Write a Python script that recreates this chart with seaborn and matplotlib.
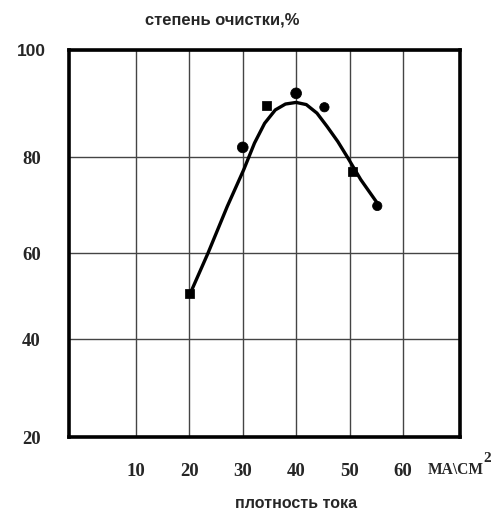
import numpy as np
import pandas as pd
import matplotlib
matplotlib.use("Agg")
import matplotlib.pyplot as plt
import seaborn as sns

# ---- data ----
point_x = [20, 30, 34.5, 40, 45.3, 50.6, 55.2]
point_y = [50.6, 81.8, 89.6, 91.9, 89.3, 77.0, 69.8]
point_kind = ["square", "circle", "square", "circle", "dot", "square", "dot"]

curve_x = [20.2, 23.5, 27.1, 30.2, 32.2, 34.1, 36.1, 38.0, 40.0, 41.9,
           43.9, 45.8, 47.8, 49.7, 52.1, 55.2]
curve_y = [50.7, 60.0, 69.7, 77.4, 82.6, 86.3, 88.8, 89.9, 90.2, 89.8,
           88.2, 85.7, 82.9, 79.8, 75.3, 70.4]

x_ticks = [10, 20, 30, 40, 50, 60]
x_tick_labels = ["10", "20", "30", "40", "50", "60"]
y_ticks = [20, 40, 60, 80, 100]
y_tick_labels = ["20", "40", "60", "80", "100"]

title_text = "степень очистки,%"
xlabel_text = "плотность тока"
unit_text = "МА\\СМ"
unit_sup = "2"

sns.set_style("white")
plt.rcParams["font.family"] = ["Liberation Sans", "DejaVu Sans"]

fig = plt.figure(figsize=(4.93, 5.12), dpi=100)
ax = fig.add_axes([69 / 493, 1 - 437 / 512, (460 - 69) / 493, (437 - 50) / 512])

# hand-drawn, non-uniform y grid spacing reproduced with a piecewise scale
y_knots = [20, 40, 60, 80, 100]
px_knots = [0, 98, 184, 280, 387]
ax.set_yscale("function",
              functions=(lambda v: np.interp(v, y_knots, px_knots),
                         lambda p: np.interp(p, px_knots, y_knots)))

curve_df = pd.DataFrame({"x": curve_x, "y": curve_y})
pts_df = pd.DataFrame({"x": point_x, "y": point_y, "kind": point_kind})

sns.lineplot(data=curve_df, x="x", y="y", ax=ax, color="black", lw=2.4,
             sort=False, estimator=None)
ax.lines[-1].set_solid_joinstyle("round")
ax.lines[-1].set_solid_capstyle("round")
sns.scatterplot(data=pts_df, x="x", y="y", style="kind", ax=ax,
                markers={"square": "s", "circle": "o", "dot": "o"},
                size="kind", sizes={"square": 45, "circle": 60, "dot": 45},
                color="black", edgecolor="black", legend=False, zorder=5)

ax.set_xlim(-2.55, 70.7)
ax.set_ylim(20, 100)
ax.set_xticks(x_ticks)
ax.set_xticklabels(x_tick_labels)
ax.set_yticks(y_ticks)
ax.set_yticklabels(y_tick_labels)
ax.grid(True, color="#444444", lw=1.0)
ax.set_axisbelow(True)
ax.tick_params(length=0)
ax.tick_params(axis="x", pad=19)
ax.tick_params(axis="y", pad=27)
ax.set_xlabel("")
ax.set_ylabel("")

for lab in ax.get_xticklabels():
    lab.set_fontfamily(["Liberation Serif", "DejaVu Serif"])
    lab.set_fontweight("bold")
    lab.set_fontsize(13.5)
for lab in ax.get_yticklabels():
    if lab.get_text() == "100":
        lab.set_fontfamily(["Liberation Sans", "DejaVu Sans"])
        lab.set_fontsize(12.5)
    else:
        lab.set_fontfamily(["Liberation Serif", "DejaVu Serif"])
        lab.set_fontsize(13.5)
    lab.set_fontweight("bold")
    lab.set_horizontalalignment("center")

for s in ax.spines.values():
    s.set_visible(True)
    s.set_color("black")
    s.set_linewidth(2.6)

fig.text(222 / 493, 1 - 20 / 512, title_text, ha="center", va="center",
         fontsize=11.9, fontweight="bold")
fig.text(296 / 493, 1 - 504 / 512, xlabel_text, ha="center", va="center",
         fontsize=11.5, fontweight="bold")
fig.text(428 / 493, 1 - 470 / 512, unit_text, ha="left", va="center",
         fontsize=11.2, fontweight="bold", family=["Liberation Serif", "DejaVu Serif"])
fig.text(483 / 493, 1 - 458 / 512, unit_sup, ha="left", va="center",
         fontsize=11, fontweight="bold", family=["Liberation Serif", "DejaVu Serif"])

fig.savefig("out.png", dpi=100)
